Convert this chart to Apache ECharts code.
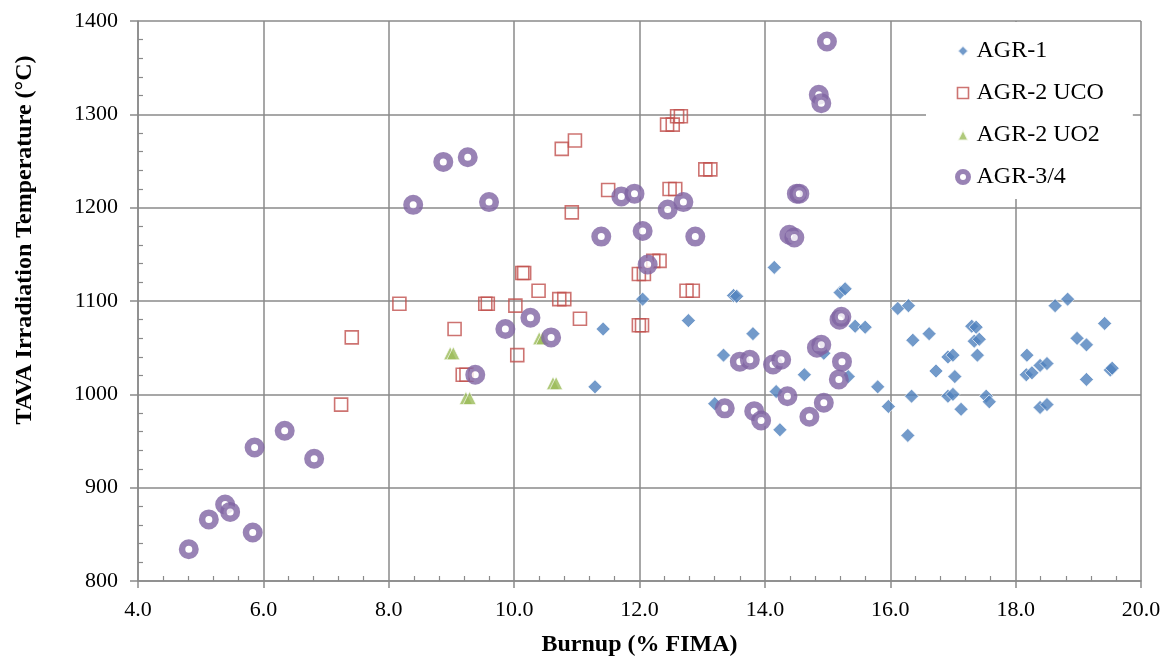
<!DOCTYPE html>
<html>
<head>
<meta charset="utf-8">
<script src="https://cdn.jsdelivr.net/npm/echarts@6/dist/echarts.min.js"></script>
<style>
  html, body { margin: 0; padding: 0; background: #fff; }
  #chart { width: 1168px; height: 661px; }
</style>
</head>
<body>
<div id="chart"></div>
<script>
// Burnup (% FIMA) vs. time-average volume-average irradiation temperature (°C)
const seriesNames = ['AGR-1', 'AGR-2 UCO', 'AGR-2 UO2', 'AGR-3/4'];

const agr1 = [
  [11.29, 1008], [11.42, 1070], [12.05, 1102], [12.78, 1079], [13.20, 990],
  [13.34, 1042], [13.50, 1106], [13.55, 1105], [13.81, 1065], [14.15, 1136],
  [14.18, 1003], [14.24, 962], [14.63, 1021], [14.94, 1044], [15.20, 1109],
  [15.28, 1113], [15.33, 1019], [15.44, 1073], [15.60, 1072], [15.80, 1008],
  [15.97, 987], [16.12, 1092], [16.28, 956], [16.29, 1095], [16.34, 998],
  [16.36, 1058], [16.62, 1065], [16.73, 1025], [16.92, 1040], [16.92, 998],
  [17.00, 1042], [17.00, 1000], [17.03, 1019], [17.13, 984], [17.30, 1073],
  [17.34, 1057], [17.37, 1072], [17.39, 1042], [17.42, 1059], [17.53, 998],
  [17.58, 992], [18.17, 1021], [18.18, 1042], [18.26, 1023], [18.39, 1031],
  [18.39, 986], [18.50, 1033], [18.50, 989], [18.63, 1095], [18.83, 1102],
  [18.98, 1060], [19.13, 1053], [19.13, 1016], [19.42, 1076], [19.51, 1026],
  [19.54, 1028]
];

const agr2Uco = [
  [7.24, 989], [7.41, 1061], [8.17, 1097], [9.05, 1070], [9.18, 1021],
  [9.24, 1021], [9.54, 1097], [9.58, 1097], [10.02, 1095], [10.05, 1042],
  [10.13, 1130], [10.16, 1130], [10.39, 1111], [10.72, 1102], [10.80, 1102],
  [10.76, 1263], [10.97, 1272], [10.92, 1195], [11.05, 1081], [11.50, 1219],
  [11.99, 1129], [12.07, 1129], [11.99, 1074], [12.04, 1074], [12.22, 1143],
  [12.32, 1143], [12.44, 1289], [12.53, 1289], [12.60, 1298], [12.66, 1298],
  [12.48, 1220], [12.57, 1220], [12.75, 1111], [12.85, 1111], [13.05, 1241],
  [13.13, 1241]
];

const agr2Uo2 = [
  [8.98, 1044], [9.03, 1044], [9.23, 996], [9.29, 996],
  [10.40, 1060], [10.45, 1060], [10.62, 1012], [10.67, 1012]
];

const agr34 = [
  [4.81, 834], [5.13, 866], [5.39, 882], [5.47, 874], [5.83, 852],
  [5.86, 943], [6.34, 961], [6.81, 931], [8.39, 1203], [8.87, 1249],
  [9.26, 1254], [9.60, 1206], [9.38, 1021], [9.86, 1070], [10.26, 1082],
  [10.59, 1061], [11.39, 1169], [11.71, 1212], [11.92, 1215], [12.05, 1175],
  [12.13, 1139], [12.45, 1198], [12.70, 1206], [12.89, 1169], [13.36, 985],
  [13.60, 1035], [13.76, 1037], [13.83, 982], [13.94, 972], [14.13, 1032],
  [14.26, 1037], [14.36, 998], [14.39, 1171], [14.47, 1168], [14.51, 1215],
  [14.55, 1215], [14.71, 976], [14.83, 1050], [14.90, 1053], [14.86, 1321],
  [14.90, 1312], [14.94, 991], [14.99, 1378], [15.19, 1080], [15.22, 1083],
  [15.23, 1035], [15.18, 1016]
];

const colors = {
  agr1: '#4F81BD',
  uco: '#C0504D',
  uo2: '#9BBB59',
  agr34: '#8064A2'
};

const gridColor = '#8a8a8a';
const serif = '"Liberation Serif", "Times New Roman", serif';

const chart = echarts.init(document.getElementById('chart'), null, { renderer: 'canvas' });

const baseAxis = {
  type: 'value',
  axisLine: { show: true, lineStyle: { color: gridColor, width: 1.5 } },
  splitLine: { show: true, lineStyle: { color: gridColor, width: 1.5 } },
  minorTick: { show: false },
  axisLabel: { color: '#000', fontFamily: serif, fontSize: 22 }
};

// companion axes that only carry the inward minor ticks
const minorOnly = {
  type: 'value',
  axisLine: { show: false },
  splitLine: { show: false },
  axisLabel: { show: false },
  axisTick: { show: false, inside: true },
  minorTick: { show: true, splitNumber: 5, length: 5, lineStyle: { color: gridColor, width: 1.2 } }
};

chart.setOption({
  animation: false,
  backgroundColor: '#fff',
  grid: { left: 138, right: 27, top: 21, bottom: 80, outerBoundsMode: 'none' },
  xAxis: [
    Object.assign({}, baseAxis, {
      min: 4, max: 20, interval: 2,
      axisTick: { show: true, inside: false, length: 7, lineStyle: { color: gridColor, width: 1.5 } },
      axisLabel: Object.assign({}, baseAxis.axisLabel, {
        margin: 18,
        formatter: v => v.toFixed(1)
      }),
      name: 'Burnup (% FIMA)',
      nameLocation: 'middle',
      nameGap: 52,
      nameTextStyle: { color: '#000', fontFamily: serif, fontSize: 24, fontWeight: 'bold' }
    }),
    Object.assign({}, minorOnly, { min: 4, max: 20, interval: 2, position: 'bottom' })
  ],
  yAxis: [
    Object.assign({}, baseAxis, {
      min: 800, max: 1400, interval: 100,
      axisTick: { show: true, inside: false, length: 8, lineStyle: { color: gridColor, width: 1.5 } },
      axisLabel: Object.assign({}, baseAxis.axisLabel, {
        margin: 20,
        formatter: v => String(v)
      }),
      name: 'TAVA Irradiation Temperature (°C)',
      nameLocation: 'middle',
      nameGap: 101,
      nameTextStyle: {
        color: '#000', fontFamily: serif, fontSize: 24, fontWeight: 'bold',
        padding: [0, 0, 0, 122]
      }
    }),
    Object.assign({}, minorOnly, { min: 800, max: 1400, interval: 100, position: 'left' })
  ],
  legend: {
    orient: 'vertical',
    left: 926,
    top: 22,
    padding: [17, 29, 10, 29],
    backgroundColor: '#fff',
    itemWidth: 11,
    itemHeight: 11,
    itemGap: 18,
    textStyle: { color: '#000', fontFamily: serif, fontSize: 24, padding: [0, 0, 0, 3] },
    data: [
      { name: seriesNames[0] },
      { name: seriesNames[1], itemStyle: { borderWidth: 1.6 } },
      { name: seriesNames[2] },
      { name: seriesNames[3], itemStyle: { borderWidth: 5 } }
    ]
  },
  series: [
    {
      name: seriesNames[0], type: 'scatter', data: agr1,
      symbol: 'diamond', symbolSize: 14,
      itemStyle: { color: colors.agr1, borderColor: '#fff', borderWidth: 0.8 }
    },
    {
      name: seriesNames[1], type: 'scatter', data: agr2Uco,
      symbol: 'rect', symbolSize: 13,
      itemStyle: { color: 'rgba(255,255,255,0)', borderColor: colors.uco, borderWidth: 1.6 }
    },
    {
      name: seriesNames[2], type: 'scatter', data: agr2Uo2,
      symbol: 'triangle', symbolSize: 13,
      itemStyle: { color: colors.uo2, borderColor: '#fff', borderWidth: 0.8 }
    },
    {
      name: seriesNames[3], type: 'scatter', data: agr34,
      symbol: 'circle', symbolSize: 13.5,
      itemStyle: { color: '#fff', borderColor: colors.agr34, borderWidth: 6.5 }
    }
  ]
});
</script>
</body>
</html>
